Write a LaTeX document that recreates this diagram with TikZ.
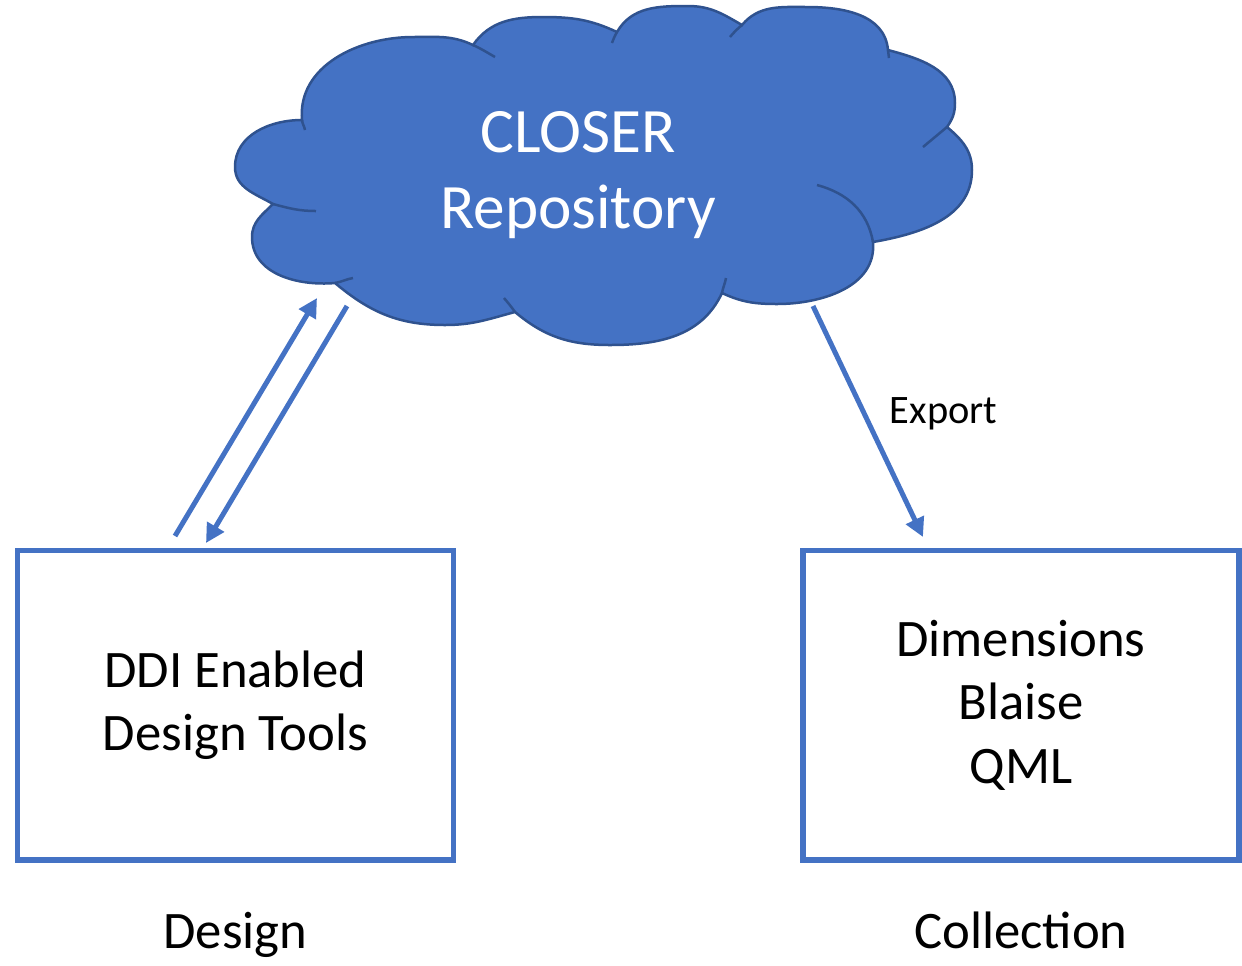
\documentclass[tikz,border=0pt]{standalone}
\usepackage{fontspec}
\setmainfont{Carlito}
\usetikzlibrary{arrows.meta,positioning}
\definecolor{officeblue}{HTML}{4472C4}
\definecolor{cloudline}{HTML}{2F528F}

\begin{document}
\begin{tikzpicture}[x=0.02cm,y=0.02cm,
    box/.style={draw=officeblue,line width=0.11cm,minimum width=8.72cm,minimum height=6.19cm,align=center,font=\fontsize{30}{36}\selectfont},
    flow/.style={draw=officeblue,line width=0.1cm,-{Triangle[length=0.38cm,width=0.38cm]}},
    lbl/.style={font=\fontsize{30}{36}\selectfont,anchor=base}]
  \useasboundingbox (0,0) rectangle (1242,-965);

  % cloud: puff junctions
  \coordinate (j1) at (302,-120);
  \coordinate (j2) at (473,-45);
  \coordinate (j3) at (617,-32);
  \coordinate (j4) at (742,-25);
  \coordinate (j5) at (888,-50);
  \coordinate (j6) at (947,-127);
  \coordinate (j7) at (873,-242);
  \coordinate (j8) at (722,-293);
  \coordinate (j9) at (515,-312);
  \coordinate (j10) at (335,-283);
  \coordinate (j11) at (273,-204);
  \filldraw[fill=officeblue,draw=cloudline,line width=0.05cm]
    (j1) to[out=95,in=180] (413,-37) to[out=0,in=155] (j2)
    to[out=55,in=180] (543,-17) to[out=0,in=155] (j3)
    to[out=60,in=180] (688,-6) to[out=0,in=150] (j4)
    to[out=50,in=180] (807,-7) to[out=0,in=95] (j5)
    to[out=-15,in=90] (955,-103) to[out=-90,in=55] (j6)
    to[out=-40,in=90] (972,-170) to[out=-90,in=10] (j7)
    to[out=-85,in=0] (777,-304) to[out=180,in=-25] (j8)
    to[out=-115,in=0] (610,-345) to[out=180,in=-40] (j9)
    to[out=-165,in=0] (445,-325) to[out=180,in=-40] (j10)
    to[out=185,in=-90] (252,-237) to[out=90,in=-135] (j11)
    to[out=150,in=-90] (235,-167) to[out=90,in=180] (j1) -- cycle;
  \foreach \j/\x/\y/\o/\i in {j1/305/-130/-85/100, j2/495/-57/-25/150, j3/612/-43/-120/70,
      j4/730/-37/-140/50, j5/889/-58/-90/90, j6/923/-147/-140/40, j7/817/-185/100/-15,
      j8/726/-278/80/-100, j9/504/-298/125/-50, j10/353/-278/10/190, j11/316/-211/-15/180}
    \draw[cloudline,line width=0.05cm] (\j) to[out=\o,in=\i] (\x,\y);
  \node[text=white,align=center,font=\fontsize{36}{43}\selectfont] (repo) at (578,-175) {CLOSER\\Repository};

  \node[box] (ddi) at (235.5,-705.3) {DDI Enabled\\Design Tools};
  \node[box] (coll) at (1021,-705.3) {Dimensions\\Blaise\\QML};
  \node[lbl] (design) at (235.5,-948) {Design};
  \node[lbl] (collection) at (1021,-948) {Collection};

  \coordinate (up-tail) at (175,-536);
  \coordinate (up-tip) at (317,-298);
  \coordinate (down-tail) at (347,-306);
  \coordinate (down-tip) at (206,-543);
  \coordinate (out-tail) at (813,-306);
  \coordinate (out-tip) at (923,-537);
  \draw[flow] (up-tail) -- (up-tip);
  \draw[flow] (down-tail) -- (down-tip);
  \draw[flow] (out-tail) -- (out-tip);
  \node[font=\fontsize{23}{28}\selectfont,anchor=base] (export) at (943.5,-423) {Export};
\end{tikzpicture}
\end{document}
